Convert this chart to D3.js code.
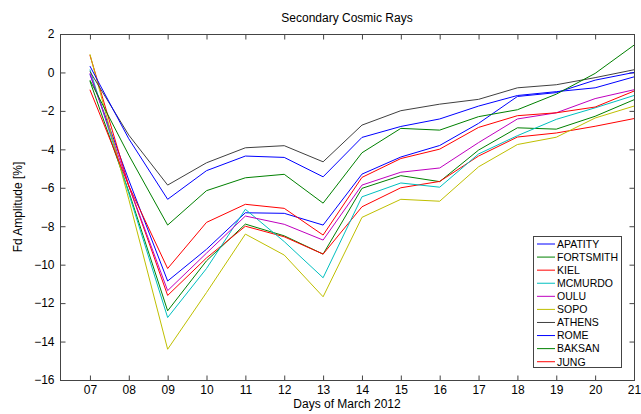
<!DOCTYPE html>
<html>
<head>
<meta charset="utf-8">
<script src="https://cdn.jsdelivr.net/npm/d3@7"></script>
<style>
  body { margin: 0; background: #fff; }
  svg { font-family: "Liberation Sans", Arial, sans-serif; }
</style>
</head>
<body>
<div id="chart"></div>
<script>
// days of March 2012
var days = [7, 8, 9, 10, 11, 12, 13, 14, 15, 16, 17, 18, 19, 20, 21];

var stations = ["APATITY", "FORTSMITH", "KIEL", "MCMURDO", "OULU", "SOPO", "ATHENS", "ROME", "BAKSAN", "JUNG"];
var colors = ["#0000ff", "#008000", "#ff0000", "#00bfbf", "#bf00bf", "#bfbf00", "#404040", "#0000ff", "#008000", "#ff0000"];

// Fd amplitude [%] per station, one value per day
var apatity   = [-0.1, -5.6, -10.85, -9.2, -7.3, -7.33, -7.94, -5.29, -4.4, -3.8, -2.65, -1.25, -1.05, -0.4, 0.0];
var fortsmith = [-0.45, -6.2, -12.4, -9.8, -7.89, -8.5, -9.45, -6.03, -5.37, -5.68, -4.04, -2.88, -2.95, -2.28, -1.42];
var kiel      = [0.9, -5.9, -11.6, -9.65, -8.0, -8.55, -9.45, -6.99, -6.0, -5.67, -4.35, -3.36, -3.15, -2.8, -2.4];
var mcmurdo   = [0.15, -6.3, -12.75, -10.2, -7.12, -8.8, -10.68, -6.47, -5.75, -5.97, -4.24, -3.29, -2.44, -1.84, -1.2];
var oulu      = [-0.05, -5.9, -11.35, -9.4, -7.47, -7.9, -8.72, -5.86, -5.19, -4.97, -3.65, -2.42, -2.1, -1.36, -0.9];
var sopo      = [0.95, -6.6, -14.4, -11.45, -8.41, -9.5, -11.67, -7.54, -6.6, -6.7, -4.91, -3.75, -3.37, -2.37, -1.75];
var athens    = [0.05, -3.26, -5.86, -4.7, -3.92, -3.81, -4.65, -2.74, -1.99, -1.65, -1.4, -0.8, -0.64, -0.27, 0.14];
var rome      = [0.33, -3.45, -6.6, -5.11, -4.35, -4.42, -5.43, -3.38, -2.81, -2.42, -1.75, -1.2, -1.0, -0.8, -0.23];
var baksan    = [-0.4, -4.3, -7.94, -6.15, -5.48, -5.3, -6.8, -4.18, -2.91, -3.0, -2.3, -1.94, -1.13, -0.05, 1.42];
var jung      = [-0.9, -5.9, -10.2, -7.8, -6.86, -7.07, -8.46, -5.46, -4.48, -3.99, -2.86, -2.25, -2.1, -1.8, -0.97];

var series = [apatity, fortsmith, kiel, mcmurdo, oulu, sopo, athens, rome, baksan, jung];
var yTicks = [-16, -14, -12, -10, -8, -6, -4, -2, 0, 2];

var width = 641, height = 414;
var plotL = 60, plotR = 634, plotT = 34, plotB = 380;
var axisColor = "#444";

var svg = d3.select("#chart").append("svg")
  .attr("width", width)
  .attr("height", height);

var x = d3.scaleLinear().domain([6.23, 21]).range([plotL, plotR]);
var y = d3.scaleLinear().domain([-16, 2]).range([plotB, plotT]);

// box
svg.append("rect")
  .attr("x", plotL + 0.5).attr("y", plotT + 0.5)
  .attr("width", plotR - plotL).attr("height", plotB - plotT)
  .attr("fill", "none").attr("stroke", axisColor);

function styleAxis(g, labels) {
  g.select(".domain").remove();
  g.selectAll(".tick line").attr("stroke", axisColor);
  g.selectAll(".tick text").attr("fill", "#000").style("font-size", "12px");
  if (!labels) g.selectAll(".tick text").remove();
}

svg.append("g")
  .attr("transform", "translate(0," + (plotB + 0.5) + ")")
  .call(d3.axisBottom(x).tickValues(days).tickSize(-5).tickPadding(5)
    .tickFormat(d => d3.format("02d")(d)))
  .call(g => styleAxis(g, true));

svg.append("g")
  .attr("transform", "translate(0," + (plotT + 0.5) + ")")
  .call(d3.axisTop(x).tickValues(days).tickSize(-5))
  .call(g => styleAxis(g, false));

svg.append("g")
  .attr("transform", "translate(" + (plotL + 0.5) + ",0)")
  .call(d3.axisLeft(y).tickValues(yTicks).tickSize(-5).tickPadding(6))
  .call(g => styleAxis(g, true));

svg.append("g")
  .attr("transform", "translate(" + (plotR + 0.5) + ",0)")
  .call(d3.axisRight(y).tickValues(yTicks).tickSize(-5))
  .call(g => styleAxis(g, false));

// lines
var line = d3.line()
  .x((d, i) => x(days[i]))
  .y(d => y(d));

svg.append("g")
  .selectAll("path")
  .data(series)
  .join("path")
  .attr("d", line)
  .attr("fill", "none")
  .attr("stroke", (d, i) => colors[i])
  .attr("stroke-width", 1);

// labels
svg.append("text")
  .attr("x", (plotL + plotR) / 2).attr("y", 22)
  .attr("text-anchor", "middle")
  .style("font-size", "12px")
  .text("Secondary Cosmic Rays");

svg.append("text")
  .attr("x", (plotL + plotR) / 2).attr("y", 408)
  .attr("text-anchor", "middle")
  .style("font-size", "12px")
  .text("Days of March 2012");

svg.append("text")
  .attr("transform", "translate(22," + (plotT + plotB) / 2 + ") rotate(-90)")
  .attr("text-anchor", "middle")
  .style("font-size", "12px")
  .text("Fd Amplitude [%]");

// legend
var lg = svg.append("g");
lg.append("rect")
  .attr("x", 533.5).attr("y", 236.5)
  .attr("width", 88).attr("height", 131)
  .attr("fill", "#fff").attr("stroke", axisColor);

var item = lg.selectAll("g.item")
  .data(stations)
  .join("g")
  .attr("class", "item")
  .attr("transform", (d, i) => "translate(0," + (244 + i * 13.08) + ")");

item.append("line")
  .attr("x1", 537).attr("x2", 555)
  .attr("stroke", (d, i) => colors[i])
  .attr("stroke-width", 1);

item.append("text")
  .attr("x", 557).attr("dy", "0.36em")
  .style("font-size", "10.5px")
  .text(d => d);
</script>
</body>
</html>
